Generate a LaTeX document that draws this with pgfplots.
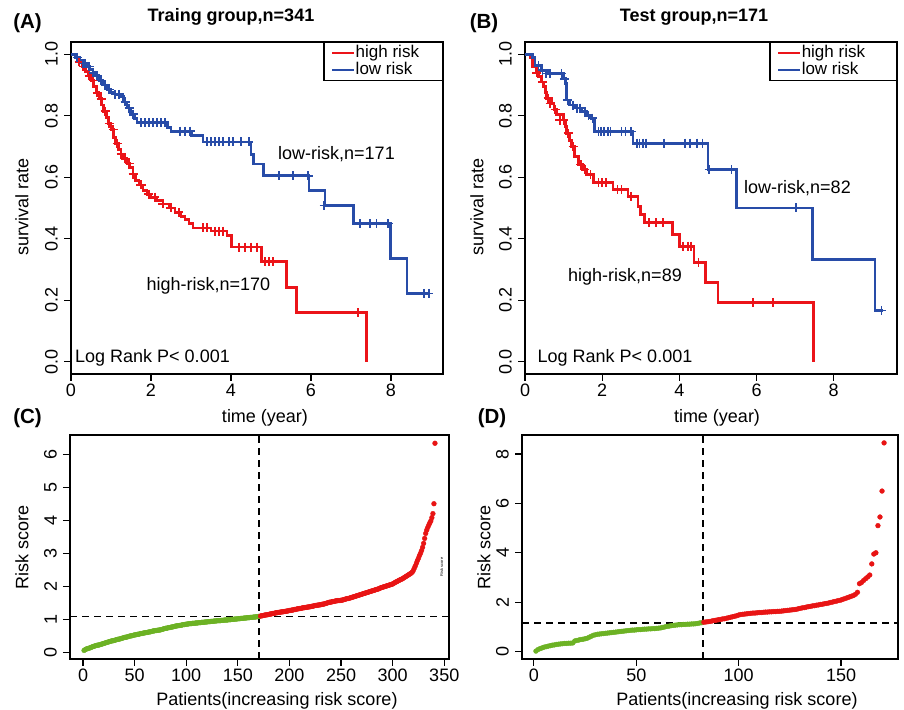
\documentclass[border=0pt]{standalone}
\usepackage{fontspec}
\setmainfont{Liberation Sans}
\usepackage{pgfplots}
\pgfplotsset{compat=1.18}
\usepackage{pgfplotstable}

\definecolor{kmred}{RGB}{235,20,25}
\definecolor{kmblue}{RGB}{40,76,168}
\definecolor{ptgreen}{RGB}{108,178,36}
\definecolor{ptred}{RGB}{232,20,20}

\newcommand{\txt}{\fontsize{18bp}{21bp}\selectfont}

% risk scores, sorted, one value per patient
\pgfplotstableread[header=false,row sep=\\]{
0.06\\0.08\\0.10\\0.11\\0.12\\0.13\\0.14\\0.15\\0.17\\0.18\\
0.19\\0.20\\0.21\\0.22\\0.22\\0.23\\0.24\\0.25\\0.26\\0.27\\
0.28\\0.29\\0.30\\0.31\\0.32\\0.33\\0.34\\0.35\\0.35\\0.36\\
0.37\\0.38\\0.39\\0.40\\0.40\\0.41\\0.42\\0.43\\0.44\\0.45\\
0.46\\0.46\\0.47\\0.48\\0.49\\0.50\\0.50\\0.51\\0.52\\0.53\\
0.53\\0.54\\0.55\\0.55\\0.56\\0.57\\0.57\\0.58\\0.59\\0.59\\
0.60\\0.60\\0.61\\0.62\\0.62\\0.63\\0.64\\0.65\\0.65\\0.66\\
0.66\\0.67\\0.67\\0.68\\0.68\\0.69\\0.70\\0.71\\0.72\\0.73\\
0.73\\0.74\\0.75\\0.75\\0.76\\0.77\\0.77\\0.78\\0.79\\0.80\\
0.80\\0.81\\0.81\\0.82\\0.82\\0.83\\0.84\\0.84\\0.85\\0.85\\
0.86\\0.86\\0.87\\0.87\\0.87\\0.88\\0.88\\0.88\\0.89\\0.89\\
0.89\\0.90\\0.90\\0.90\\0.91\\0.91\\0.91\\0.92\\0.92\\0.92\\
0.93\\0.93\\0.93\\0.94\\0.94\\0.94\\0.95\\0.95\\0.95\\0.96\\
0.96\\0.96\\0.96\\0.97\\0.97\\0.97\\0.98\\0.98\\0.98\\0.98\\
0.99\\0.99\\0.99\\1.00\\1.00\\1.00\\1.01\\1.01\\1.01\\1.02\\
1.02\\1.02\\1.03\\1.03\\1.03\\1.04\\1.04\\1.04\\1.05\\1.05\\
1.05\\1.06\\1.06\\1.06\\1.07\\1.07\\1.07\\1.08\\1.08\\1.09\\
1.09\\
}\trainlow

\pgfplotstableread[header=false,row sep=\\]{
1.10\\1.11\\1.11\\1.12\\1.13\\1.13\\1.14\\1.14\\1.15\\
1.16\\1.16\\1.17\\1.18\\1.18\\1.19\\1.20\\1.20\\1.21\\1.21\\
1.22\\1.22\\1.23\\1.23\\1.24\\1.24\\1.25\\1.25\\1.26\\1.27\\
1.27\\1.28\\1.28\\1.29\\1.30\\1.30\\1.31\\1.32\\1.32\\1.33\\
1.33\\1.34\\1.35\\1.35\\1.36\\1.36\\1.37\\1.37\\1.38\\1.38\\
1.39\\1.40\\1.40\\1.41\\1.42\\1.42\\1.43\\1.43\\1.44\\1.44\\
1.45\\1.46\\1.46\\1.47\\1.48\\1.49\\1.50\\1.51\\1.52\\1.52\\
1.53\\1.54\\1.54\\1.55\\1.56\\1.56\\1.57\\1.57\\1.57\\1.58\\
1.58\\1.59\\1.60\\1.61\\1.62\\1.63\\1.63\\1.64\\1.65\\1.66\\
1.67\\1.68\\1.69\\1.70\\1.71\\1.72\\1.73\\1.74\\1.75\\1.76\\
1.77\\1.78\\1.79\\1.80\\1.81\\1.82\\1.83\\1.84\\1.85\\1.86\\
1.87\\1.88\\1.89\\1.90\\1.91\\1.92\\1.93\\1.95\\1.96\\1.97\\
1.98\\1.99\\2.00\\2.01\\2.02\\2.03\\2.04\\2.05\\2.06\\2.07\\
2.09\\2.11\\2.13\\2.14\\2.16\\2.18\\2.19\\2.21\\2.22\\2.24\\
2.26\\2.28\\2.30\\2.32\\2.34\\2.36\\2.38\\2.40\\2.43\\2.48\\
2.55\\2.62\\2.70\\2.78\\2.85\\2.93\\3.00\\3.08\\3.18\\3.30\\
3.45\\3.60\\3.70\\3.78\\3.85\\3.92\\3.98\\4.08\\4.20\\4.50\\
6.33\\
}\trainhigh

\pgfplotstableread[header=false,row sep=\\]{
0.02\\0.08\\0.12\\0.15\\0.18\\0.20\\0.22\\0.24\\0.26\\0.27\\
0.29\\0.30\\0.31\\0.32\\0.33\\0.33\\0.34\\0.34\\0.35\\
0.43\\0.45\\0.47\\0.49\\0.50\\0.52\\0.54\\0.58\\0.62\\0.66\\
0.68\\0.70\\0.71\\0.72\\0.73\\0.74\\0.75\\0.76\\0.77\\0.78\\
0.79\\0.80\\0.81\\0.82\\0.83\\0.84\\0.85\\0.86\\0.87\\0.87\\
0.88\\0.89\\0.89\\0.90\\0.91\\0.91\\0.92\\0.92\\0.93\\0.93\\
0.94\\0.95\\0.96\\0.98\\1.00\\1.02\\1.03\\1.05\\1.06\\1.07\\
1.08\\1.09\\1.09\\1.10\\1.10\\1.11\\1.11\\1.12\\1.12\\1.13\\
1.14\\1.16\\1.17\\
}\testlow

\pgfplotstableread[header=false,row sep=\\]{
1.19\\1.20\\1.21\\1.22\\1.24\\1.26\\1.27\\1.29\\
1.30\\1.32\\1.33\\1.35\\1.37\\1.39\\1.41\\1.43\\1.45\\1.48\\
1.50\\1.51\\1.52\\1.53\\1.54\\1.55\\1.56\\1.56\\1.57\\1.58\\
1.58\\1.59\\1.60\\1.60\\1.61\\1.61\\1.62\\1.62\\1.63\\1.63\\
1.64\\1.65\\1.66\\1.67\\1.68\\1.69\\1.70\\1.71\\1.73\\1.75\\
1.77\\1.78\\1.80\\1.82\\1.83\\1.85\\1.86\\1.88\\1.89\\1.91\\
1.92\\1.94\\1.95\\1.97\\1.99\\2.01\\2.03\\2.05\\2.07\\2.09\\
2.12\\2.15\\2.18\\2.21\\2.24\\2.27\\2.32\\2.40\\2.75\\2.80\\
2.88\\2.95\\3.02\\3.10\\3.55\\3.95\\4.00\\5.10\\5.45\\6.50\\
8.45\\
}\testhigh

\pgfplotsset{
  rplot/.style={
    scale only axis, anchor=south west,
    axis line style={line width=1.3bp},
    tick align=outside, tick pos=left,
    major tick length=7bp,
    every tick/.style={black, line width=1.2bp},
    ticklabel style={font=\txt, inner sep=1bp},
    yticklabel style={rotate=90, anchor=south},
    xticklabel style={anchor=north},
    xticklabel shift=2bp, yticklabel shift=5bp,
    /pgf/number format/assume math mode=true,
  },
  km/.style={
    rplot, xmin=0, ymin=-0.04, ymax=1.04,
    xtick={0,2,4,6,8}, ytick={0,0.2,0.4,0.6,0.8,1},
    yticklabels={0.0,0.2,0.4,0.6,0.8,1.0},
    legend style={at={(1,1)}, anchor=north east, draw=black, line width=1.3bp,
      font=\fontsize{17bp}{19bp}\selectfont, inner xsep=7bp, inner ysep=2bp, row sep=0bp,
      nodes={inner sep=0.3bp, text height=12.6bp, text depth=3.8bp}},
    legend cell align=left,
    legend image code/.code={\draw[##1, line width=2.5bp] (0bp,0bp) -- (22bp,0bp);},
  },
  step/.style={const plot, line width=2.8bp},
  cens/.style={only marks, mark=+, mark size=4.5bp, line width=1.6bp, forget plot},
  dots/.style={only marks, mark=*, mark size=2.4bp},
  cut/.style={black, line width=1.4bp, dash pattern=on 7bp off 5bp},
}

\begin{document}
\begin{tikzpicture}
\path[use as bounding box] (0,0) rectangle (904bp,710bp);

% (A) training group survival
\begin{axis}[km, at={(71bp,336bp)}, width=372bp, height=332bp, xmax=9.3]
\addplot[step, kmred] coordinates {
(0,1)(0.1,0.99)(0.2,0.975)(0.28,0.96)(0.36,0.945)(0.44,0.93)(0.5,0.915)(0.57,0.895)
(0.64,0.875)(0.7,0.855)(0.76,0.835)(0.82,0.815)(0.88,0.795)(0.94,0.775)(1.0,0.755)
(1.06,0.73)(1.12,0.71)(1.18,0.69)(1.25,0.675)(1.32,0.66)(1.4,0.645)(1.47,0.632)
(1.55,0.61)(1.62,0.59)(1.7,0.575)(1.8,0.557)(1.9,0.545)(2.0,0.535)(2.15,0.525)
(2.3,0.513)(2.45,0.5)(2.6,0.486)(2.75,0.472)(2.85,0.462)(2.95,0.45)(3.05,0.435)
(3.5,0.425)(3.9,0.41)(4.02,0.373)(4.77,0.325)(5.39,0.242)(5.64,0.16)(7.39,0)};
\addplot[step, kmblue] coordinates {
(0,1)(0.12,0.99)(0.22,0.98)(0.3,0.97)(0.38,0.96)(0.46,0.95)(0.55,0.94)(0.62,0.93)
(0.7,0.915)(0.8,0.9)(0.9,0.885)(1.0,0.875)(1.1,0.87)(1.25,0.862)(1.32,0.845)
(1.4,0.825)(1.48,0.805)(1.58,0.79)(1.65,0.778)(2.42,0.762)(2.5,0.75)(3.02,0.735)
(3.3,0.715)(4.5,0.675)(4.56,0.643)(4.82,0.605)(5.95,0.557)(6.35,0.508)(7.06,0.449)
(7.98,0.336)(8.4,0.222)(8.98,0.222)};
\addplot[cens, kmred] coordinates {
(0.2,0.975)(0.3,0.96)(0.45,0.93)(0.55,0.915)(0.65,0.875)(0.75,0.855)(0.85,0.815)
(0.95,0.775)(1.05,0.755)(1.15,0.71)(1.25,0.675)(1.35,0.66)(1.45,0.645)(1.55,0.61)
(1.75,0.575)(1.95,0.545)(2.1,0.535)(2.3,0.513)(2.5,0.5)(2.7,0.486)(3.3,0.435)
(3.4,0.435)(3.6,0.425)(3.7,0.425)(3.8,0.425)(4.2,0.373)(4.35,0.373)(4.5,0.373)
(4.65,0.373)(4.85,0.325)(4.95,0.325)(5.05,0.325)(7.17,0.16)};
\addplot[cens, kmblue] coordinates {
(0.15,0.99)(0.3,0.97)(0.35,0.97)(0.45,0.96)(0.55,0.94)(0.65,0.93)(0.75,0.915)
(0.85,0.9)(0.95,0.885)(1.1,0.87)(1.2,0.87)(1.35,0.845)(1.45,0.825)(1.55,0.805)
(1.75,0.778)(1.85,0.778)(1.95,0.778)(2.05,0.778)(2.15,0.778)(2.25,0.778)(2.35,0.778)
(2.72,0.75)(2.85,0.75)(2.98,0.75)(3.4,0.715)(3.5,0.715)(3.6,0.715)(3.7,0.715)
(3.8,0.715)(3.95,0.715)(4.05,0.715)(4.25,0.715)(4.45,0.715)(5.2,0.605)(5.55,0.605)
(5.93,0.605)(6.33,0.508)(7.22,0.449)(7.47,0.449)(7.64,0.449)(7.93,0.449)
(8.83,0.222)(8.95,0.222)};
\legend{high risk\hspace*{16bp}, low risk}
\end{axis}

% (B) test group survival
\begin{axis}[km, at={(525bp,336bp)}, width=372bp, height=332bp, xmax=9.64]
\addplot[step, kmred] coordinates {
(0,1)(0.13,0.99)(0.2,0.96)(0.3,0.94)(0.35,0.927)(0.42,0.91)(0.47,0.894)(0.53,0.875)
(0.56,0.857)(0.69,0.84)(0.75,0.82)(0.82,0.803)(0.99,0.786)(1.05,0.765)(1.08,0.743)
(1.15,0.72)(1.21,0.7)(1.29,0.668)(1.38,0.641)(1.5,0.625)(1.6,0.608)(1.77,0.582)
(2.28,0.56)(2.67,0.538)(2.93,0.505)(3.0,0.479)(3.1,0.452)(3.82,0.414)(4.01,0.376)
(4.38,0.323)(4.68,0.258)(5.0,0.193)(7.48,0)};
\addplot[step, kmblue] coordinates {
(0,1)(0.2,0.99)(0.26,0.964)(0.43,0.948)(0.6,0.937)(1.0,0.92)(1.04,0.905)(1.08,0.851)
(1.16,0.835)(1.3,0.825)(1.47,0.813)(1.6,0.8)(1.73,0.792)(1.81,0.749)(2.8,0.711)
(4.74,0.625)(5.48,0.5)(7.46,0.333)(9.07,0.166)(9.27,0.166)};
\addplot[cens, kmred] coordinates {
(0.3,0.94)(0.45,0.91)(0.6,0.857)(0.65,0.84)(0.78,0.82)(0.9,0.786)(1.0,0.786)
(1.12,0.743)(1.25,0.7)(1.45,0.641)(1.55,0.625)(1.7,0.608)(1.9,0.582)(2.0,0.582)
(2.1,0.582)(2.4,0.56)(2.5,0.56)(2.75,0.538)(3.22,0.452)(3.4,0.452)(3.57,0.452)
(4.1,0.376)(4.23,0.376)(4.3,0.376)(4.5,0.323)(5.91,0.193)(6.43,0.193)};
\addplot[cens, kmblue] coordinates {
(0.35,0.964)(0.45,0.948)(0.55,0.937)(0.65,0.937)(0.95,0.937)(1.02,0.92)(1.1,0.851)
(1.25,0.835)(1.35,0.825)(1.42,0.825)(1.55,0.813)(1.65,0.8)(1.75,0.792)(1.9,0.749)
(1.97,0.749)(2.05,0.749)(2.15,0.749)(2.22,0.749)(2.5,0.749)(2.6,0.749)(2.75,0.749)
(2.9,0.711)(2.97,0.711)(3.05,0.711)(3.13,0.711)(3.6,0.711)(4.15,0.711)(4.27,0.711)
(4.45,0.711)(4.6,0.711)(4.77,0.625)(5.35,0.625)(7.03,0.5)(9.24,0.166)};
\legend{high risk\hspace*{24bp}, low risk}
\end{axis}

% (C) training risk scores
\begin{axis}[rplot, at={(70bp,51bp)}, width=379bp, height=224bp,
  xmin=-12.6, xmax=354.6, ymin=-0.2, ymax=6.58,
  xtick={0,50,...,350}, ytick={0,1,...,6}]
\addplot[dots, ptgreen] table[x expr=\coordindex+1, y index=0] {\trainlow};
\addplot[dots, ptred] table[x expr=\coordindex+172, y index=0] {\trainhigh};
\addplot[cut] coordinates {(170.6,-0.2)(170.6,6.58)};
\addplot[cut] coordinates {(-12.6,1.08)(354.6,1.08)};
\end{axis}

% (D) test risk scores
\begin{axis}[rplot, at={(522bp,51bp)}, width=376bp, height=224bp,
  xmin=-5.8, xmax=177.8, ymin=-0.3, ymax=8.77,
  xtick={0,50,100,150}, ytick={0,2,4,6,8}]
\addplot[dots, ptgreen] table[x expr=\coordindex+1, y index=0] {\testlow};
\addplot[dots, ptred] table[x expr=\coordindex+83, y index=0] {\testhigh};
\addplot[cut] coordinates {(82.5,-0.3)(82.5,8.77)};
\addplot[cut] coordinates {(-5.8,1.15)(177.8,1.15)};
\end{axis}

% titles and panel letters
\begin{scope}[every node/.style={font=\bfseries\fontsize{18bp}{21bp}\selectfont, anchor=base}]
\node at (231bp,688bp) {Traing group,n=341};
\node at (694bp,688bp) {Test group,n=171};
\end{scope}
\begin{scope}[every node/.style={font=\bfseries\fontsize{20.5bp}{23bp}\selectfont, anchor=base}]
\node at (27.5bp,681bp) {(A)};
\node at (484bp,681bp) {(B)};
\node at (27.5bp,286.7bp) {(C)};
\node at (492bp,286.7bp) {(D)};
\end{scope}

% axis labels and annotations
\begin{scope}[every node/.style={font=\txt}]
\node[anchor=base] at (265bp,287.3bp) {time (year)};
\node[anchor=base] at (717bp,287.3bp) {time (year)};
\node[anchor=base] at (277bp,5bp) {Patients(increasing risk score)};
\node[anchor=base] at (737bp,5bp) {Patients(increasing risk score)};
\node[rotate=90] at (22bp,503bp) {survival rate};
\node[rotate=90] at (477bp,503bp) {survival rate};
\node[rotate=90] at (22bp,163bp) {Risk score};
\node[rotate=90] at (484bp,163bp) {Risk score};
\node[anchor=base] at (336.5bp,550.7bp) {low-risk,n=171};
\node[anchor=base] at (208.3bp,419.3bp) {high-risk,n=170};
\node[anchor=base] at (152.5bp,347.7bp) {Log Rank P< 0.001};
\node[anchor=base] at (797.5bp,516.7bp) {low-risk,n=82};
\node[anchor=base] at (625bp,428.3bp) {high-risk,n=89};
\node[anchor=base] at (615bp,347.7bp) {Log Rank P< 0.001};
\end{scope}
\node[rotate=90, font=\fontsize{4bp}{5bp}\selectfont] at (441.7bp,143bp) {Risk score};

\end{tikzpicture}
\end{document}
